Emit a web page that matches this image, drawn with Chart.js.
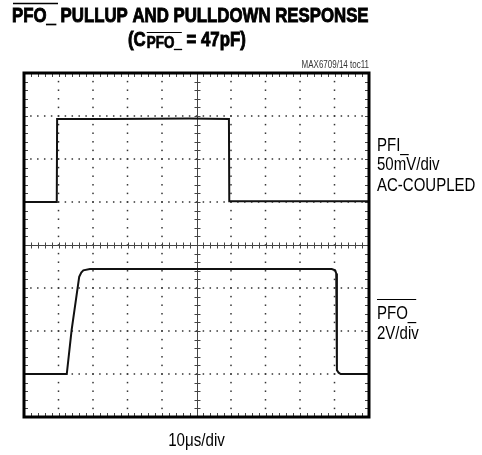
<!DOCTYPE html>
<html>
<head>
<meta charset="utf-8">
<script src="https://cdn.jsdelivr.net/npm/chart.js@4/dist/chart.umd.min.js"></script>
<style>
    html, body { margin: 0; padding: 0; background: #fff; }
    canvas { display: block; }
</style>
</head>
<body>
<canvas id="scope" width="482" height="455"></canvas>
<script>
// Screen is 10 x 8 divisions; values below are in divisions
const divX = [0, 1, 2, 3, 4, 5, 6, 7, 8, 9, 10];
const divY = [0, 1, 2, 3, 4, 5, 6, 7, 8];

// PFI_ trace (upper, 50mV/div AC-coupled)
const pfiX = [0, 0.95, 0.96, 2.5, 4.8, 5.94, 5.95, 8.0, 10];
const pfiY = [5.0, 5.0, 6.93, 6.93, 6.94, 6.93, 5.02, 5.02, 5.02];

// PFO_ trace (lower, 2V/div)
const pfoX = [0, 1.24, 1.38, 1.60, 1.66, 1.72, 1.91, 5.0, 8.92, 9.02, 9.05, 9.07, 9.12, 9.18, 10];
const pfoY = [1.0, 1.0, 2.02, 3.26, 3.36, 3.41, 3.44, 3.44, 3.44, 3.41, 3.34, 1.09, 1.03, 1.0, 1.0];

function toPoints(xs, ys) {
    return xs.map((x, i) => ({ x: x, y: ys[i] }));
}

function drawText(ctx, text, x, y, font, sx, align, heavy) {
    ctx.save();
    ctx.font = font;
    ctx.textBaseline = 'alphabetic';
    ctx.textAlign = 'left';
    const w = ctx.measureText(text).width * sx;
    let left = x;
    if (align === 'center') left = x - w / 2;
    if (align === 'right') left = x - w;
    ctx.translate(left, y);
    ctx.scale(sx, 1);
    ctx.fillText(text, 0, 0);
    if (heavy) {
        // fake a black weight like the condensed heavy face of the original
        ctx.lineWidth = heavy;
        ctx.strokeStyle = ctx.fillStyle;
        ctx.strokeText(text, 0, 0);
    }
    ctx.restore();
    return w;
}

const scopeGrid = {
    id: 'scopeGrid',
    beforeDatasetsDraw(chart) {
        const ctx = chart.ctx;
        const xs = chart.scales.x;
        const ys = chart.scales.y;
        const area = chart.chartArea;
        ctx.save();
        ctx.fillStyle = '#333';
        // dotted vertical lines
        divX.slice(1, -1).forEach(d => {
            if (d === 5) return;
            const px = xs.getPixelForValue(d);
            for (let k = 1; k < 40; k++) {
                const py = ys.getPixelForValue(k / 5);
                ctx.fillRect(px - 0.75, py - 0.75, 1.5, 1.5);
            }
        });
        // dotted horizontal lines
        divY.slice(1, -1).forEach(d => {
            if (d === 4) return;
            const py = ys.getPixelForValue(d);
            for (let k = 1; k < 50; k++) {
                const px = xs.getPixelForValue(k / 5);
                ctx.fillRect(px - 0.75, py - 0.75, 1.5, 1.5);
            }
        });

        // center cross with minor ticks
        ctx.strokeStyle = '#444';
        ctx.lineWidth = 1;
        const cx = Math.round(xs.getPixelForValue(5)) + 0.5;
        const cy = Math.round(ys.getPixelForValue(4)) + 0.5;
        ctx.beginPath();
        ctx.moveTo(area.left, cy);
        ctx.lineTo(area.right, cy);
        ctx.moveTo(cx, area.top);
        ctx.lineTo(cx, area.bottom);
        for (let k = 1; k < 50; k++) {
            const px = Math.round(xs.getPixelForValue(k / 5)) + 0.5;
            ctx.moveTo(px, cy - 3);
            ctx.lineTo(px, cy + 3);
            // ticks along top and bottom frame
            ctx.moveTo(px, area.top);
            ctx.lineTo(px, area.top + 4);
            ctx.moveTo(px, area.bottom);
            ctx.lineTo(px, area.bottom - 4);
        }
        for (let k = 1; k < 40; k++) {
            const py = Math.round(ys.getPixelForValue(k / 5)) + 0.5;
            ctx.moveTo(cx - 3, py);
            ctx.lineTo(cx + 3, py);
            // ticks along left and right frame
            ctx.moveTo(area.left, py);
            ctx.lineTo(area.left + 4, py);
            ctx.moveTo(area.right, py);
            ctx.lineTo(area.right - 4, py);
        }
        ctx.stroke();
        ctx.restore();
    },
    afterDraw(chart) {
        const ctx = chart.ctx;
        const area = chart.chartArea;
        ctx.save();
        // frame
        ctx.strokeStyle = '#000';
        ctx.lineWidth = 3;
        ctx.strokeRect(area.left, area.top, area.right - area.left, area.bottom - area.top);

        ctx.fillStyle = '#000';
        ctx.strokeStyle = '#000';
        ctx.lineWidth = 1.2;

        // title line 1
        const titleFont = 'bold 20px "Liberation Sans", Arial, sans-serif';
        const sxB = 0.84;
        drawText(ctx, 'PFO_ PULLUP AND PULLDOWN RESPONSE', 12, 22, titleFont, sxB, 'left', 0.9);
        ctx.lineWidth = 1.5;
        ctx.beginPath();
        ctx.moveTo(13, 3.5);
        ctx.lineTo(58, 3.5);
        ctx.stroke();

        // title line 2: (C PFO_ = 47pF)
        let x = 128;
        x += drawText(ctx, '(C', x, 46, titleFont, sxB, 'left', 0.9);
        const subStart = x + 1;
        x += drawText(ctx, 'PFO_', subStart, 48, 'bold 16px "Liberation Sans", Arial, sans-serif', sxB, 'left', 0.7) + 1;
        ctx.lineWidth = 1.2;
        ctx.beginPath();
        ctx.moveTo(subStart, 32.5);
        ctx.lineTo(x, 32.5);
        ctx.stroke();
        drawText(ctx, ' = 47pF)', x, 46, titleFont, sxB, 'left', 0.9);

        // file tag
        ctx.fillStyle = '#333';
        drawText(ctx, 'MAX6709/14 toc11', 369, 68, '10px "Liberation Sans", Arial, sans-serif', 0.8, 'right');

        // channel labels
        ctx.fillStyle = '#000';
        const lblFont = '19px "Liberation Sans", Arial, sans-serif';
        const sxL = 0.79;
        drawText(ctx, 'PFI_', 377, 151, lblFont, sxL, 'left');
        drawText(ctx, '50mV/div', 377, 170, lblFont, sxL, 'left');
        drawText(ctx, 'AC-COUPLED', 377, 191, lblFont, sxL, 'left');
        const wPfo = drawText(ctx, 'PFO_', 377, 318.5, lblFont, sxL, 'left');
        ctx.lineWidth = 1;
        ctx.beginPath();
        ctx.moveTo(377, 299.5);
        ctx.lineTo(377 + wPfo, 299.5);
        ctx.stroke();
        drawText(ctx, '2V/div', 377, 339, lblFont, sxL, 'left');

        // time base
        drawText(ctx, '10\u03bcs/div', chart.scales.x.getPixelForValue(5), 446, '18px "Liberation Sans", Arial, sans-serif', 0.84, 'center');
        ctx.restore();
    }
};

const whiteBg = {
    id: 'whiteBg',
    beforeDraw(chart) {
        const ctx = chart.ctx;
        ctx.save();
        ctx.fillStyle = '#fff';
        ctx.fillRect(0, 0, chart.width, chart.height);
        ctx.restore();
    }
};

new Chart(document.getElementById('scope').getContext('2d'), {
    type: 'line',
    data: {
        datasets: [
            {
                label: 'PFI_',
                data: toPoints(pfiX, pfiY),
                borderColor: '#111',
                borderWidth: 2,
                pointRadius: 0,
                tension: 0,
                fill: false
            },
            {
                label: 'PFO_',
                data: toPoints(pfoX, pfoY),
                borderColor: '#111',
                borderWidth: 2,
                pointRadius: 0,
                tension: 0,
                fill: false
            }
        ]
    },
    options: {
        responsive: false,
        animation: false,
        parsing: false,
        layout: { padding: { left: 24, top: 73, right: 113, bottom: 38 } },
        scales: {
            x: { type: 'linear', min: 0, max: 10, display: false },
            y: { type: 'linear', min: 0, max: 8, display: false }
        },
        plugins: {
            legend: { display: false },
            tooltip: { enabled: false }
        }
    },
    plugins: [whiteBg, scopeGrid]
});
</script>
</body>
</html>
